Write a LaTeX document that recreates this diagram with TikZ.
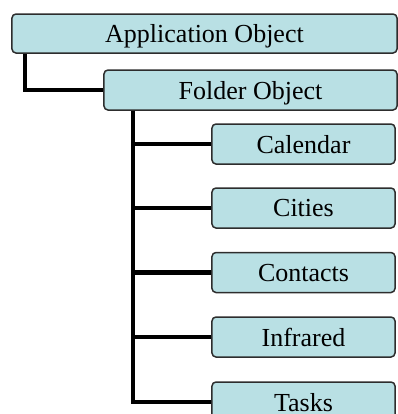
\documentclass[tikz,border=0pt]{standalone}
\usepackage{fontspec}
\setmainfont{Liberation Serif}
\definecolor{boxfill}{RGB}{185,224,228}
\definecolor{boxline}{RGB}{45,45,45}
\begin{document}
\begin{tikzpicture}[x=1bp,y=-1bp,
	objbox/.style={draw=boxline,line width=1.5bp,fill=boxfill,rounded corners=4bp,
		minimum height=40bp,inner sep=0pt,text depth=0pt,font=\fontsize{26bp}{28bp}\selectfont},
	link/.style={line width=4.5bp,black}]
		\useasboundingbox (0,0) rectangle (398,414);
		\clip (0,0) rectangle (398,414);
		% top levels
		\node[objbox,minimum width=385bp,minimum height=39bp] (app) at (204.5,33.5) {Application Object};
		\node[objbox,minimum width=293bp] (folder) at (250.5,90) {Folder Object};
		\draw[link] ([xshift=14bp]app.south west) |- (folder.west);
		% children of the folder
		\foreach \name/\txt/\y in {calendar/Calendar/144,cities/Cities/208,contacts/Contacts/272.5,infrared/Infrared/337,tasks/Tasks/402}{
			\node[objbox,minimum width=183bp] (\name) at (303.5,\y) {\txt};
			\draw[link] ([xshift=30bp]folder.south west) |- (\name.west);
		}
		
		\end{tikzpicture}
\end{document}
